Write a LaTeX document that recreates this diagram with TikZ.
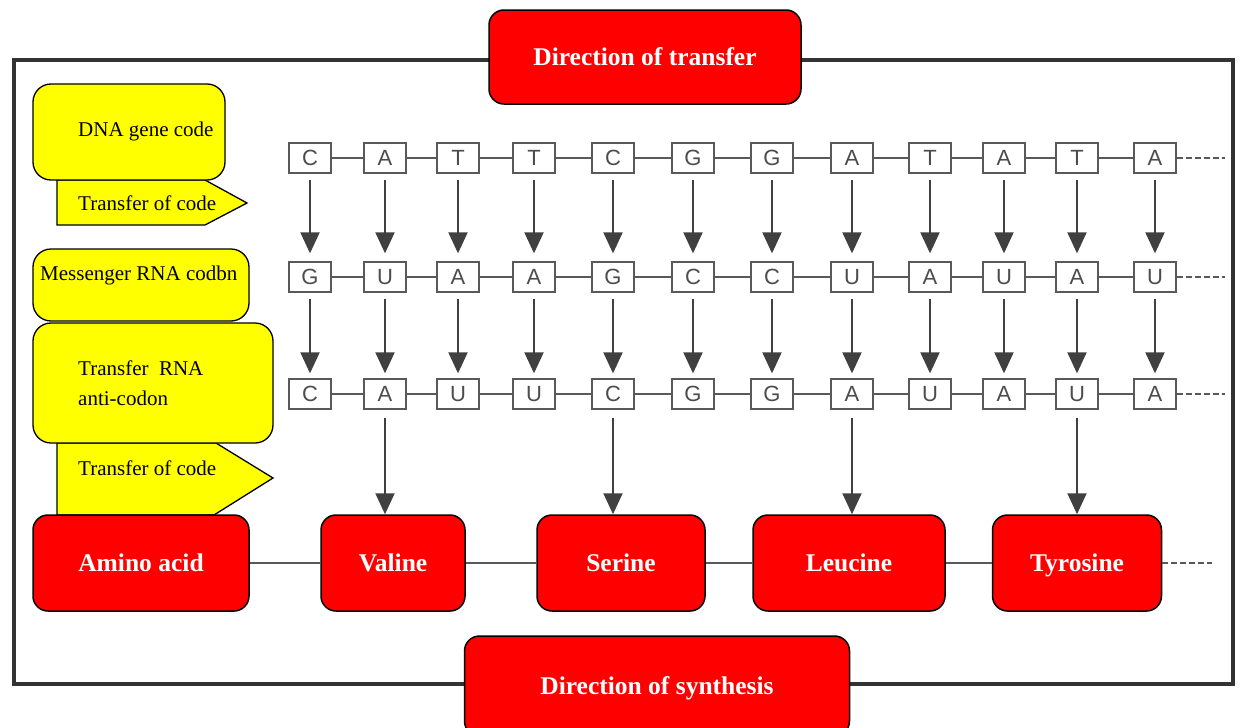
\documentclass[tikz,border=0pt]{standalone}
\usepackage{fontspec}
\setmainfont{Liberation Serif}
\newfontfamily\basefont{Liberation Sans}
\usetikzlibrary{arrows.meta,positioning,calc}
\definecolor{codeyellow}{RGB}{255,255,0}
\definecolor{aminored}{RGB}{255,0,0}

\begin{document}
\begin{tikzpicture}[x=1pt,y=-1pt,
    base/.style={rectangle,draw=black!65,line width=1.3pt,fill=white,minimum width=42pt,minimum height=30pt,inner sep=0pt,text=black!70,font=\basefont\fontsize{22}{22}\selectfont},
    amino/.style={rectangle,draw=black,line width=1.5pt,fill=aminored,rounded corners=15pt,text=white,font=\bfseries\fontsize{25.5}{26}\selectfont,minimum height=96pt,text height=20pt,text depth=3pt},
    codebox/.style={draw=black,line width=1.3pt,fill=codeyellow,rounded corners=18pt},
    codetext/.style={anchor=west,inner sep=0pt,align=left,font=\fontsize{21}{30}\selectfont},
    transfer/.style={draw=black!75,line width=2pt,-{Triangle[width=19pt,length=21pt]}},
    strand/.style={draw=black!65,line width=1.5pt}]
    \useasboundingbox (0,0) rectangle (1243,728);
    % frame of the old figure
    \draw[black!80,line width=4pt] (14,60) rectangle (1233,684);
    % yellow labels on the left
    \draw[codebox,rounded corners=0pt] (57,180) -- (205,180) -- (247,203) -- (205,225) -- (57,225) -- cycle;
    \draw[codebox] (33,84) rectangle (225,180);
    \draw[codebox] (33,249) rectangle (249,321);
    \draw[codebox,rounded corners=0pt] (57,443) -- (216,443) -- (273,478) -- (214,515) -- (57,515) -- cycle;
    \draw[codebox] (33,323) rectangle (273,443);
    \node (dnatext) [codetext] at (78,131) {DNA gene code};
    \node (tc1text) [codetext] at (78,203) {Transfer of code};
    \node (mrnatext) [codetext] at (40,275) {Messenger RNA codbn};
    \node (trnatext) [codetext] at (78,383) {Transfer\ \ RNA\\anti-codon};
    \node (tc2text) [codetext] at (78,468) {Transfer of code};
    % the three strands
    \foreach \x/\d/\m/\t [count=\i] in {310/C/G/C,385/A/U/A,458/T/A/U,534/T/A/U,613/C/G/C,693/G/C/G,772/G/C/G,852/A/U/A,930/T/A/U,1004/A/U/A,1077/T/A/U,1155/A/U/A} {
        \node (d\i) [base] at (\x,158) {\d};
        \node (m\i) [base] at (\x,277) {\m};
        \node (t\i) [base] at (\x,394) {\t};
        \draw[transfer,shorten <=6pt,shorten >=8pt] (d\i) -- (m\i);
        \draw[transfer,shorten <=6pt,shorten >=5pt] (m\i) -- (t\i);
    }
    \foreach \i [remember=\i as \j (initially 1)] in {2,...,12} {
        \draw[strand] (d\j) -- (d\i);
        \draw[strand] (m\j) -- (m\i);
        \draw[strand] (t\j) -- (t\i);
    }
    \coordinate (dend) at (1225,158);
    \coordinate (mend) at (1225,277);
    \coordinate (tend) at (1225,394);
    \draw[strand,dash pattern=on 6pt off 3pt] (d12) -- (dend);
    \draw[strand,dash pattern=on 6pt off 3pt] (m12) -- (mend);
    \draw[strand,dash pattern=on 6pt off 3pt] (t12) -- (tend);
    % amino acid chain
    \node (amino) [amino,minimum width=216pt] at (141,563) {Amino acid};
    \node (valine) [amino,minimum width=144pt] at (393,563) {Valine};
    \node (serine) [amino,minimum width=168pt] at (621,563) {Serine};
    \node (leucine) [amino,minimum width=192pt] at (849,563) {Leucine};
    \node (tyrosine) [amino,minimum width=169pt] at (1077,563) {Tyrosine};
    \draw[strand] (amino) -- (valine);
    \draw[strand] (valine) -- (serine);
    \draw[strand] (serine) -- (leucine);
    \draw[strand] (leucine) -- (tyrosine);
    \coordinate (aend) at (1212,563);
    \draw[strand,dash pattern=on 6pt off 3pt] (tyrosine) -- (aend);
    \draw[transfer,shorten <=8pt] (t2) -- (t2 |- valine.north);
    \draw[transfer,shorten <=8pt] (t5) -- (t5 |- serine.north);
    \draw[transfer,shorten <=8pt] (t8) -- (t8 |- leucine.north);
    \draw[transfer,shorten <=8pt] (t11) -- (t11 |- tyrosine.north);
    % directions
    \node (transfer) [amino,minimum width=312pt,minimum height=94pt] at (645,57) {Direction of transfer};
    \node (synthesis) [amino,minimum width=385pt,minimum height=100pt] at (657,686) {Direction of synthesis};
\end{tikzpicture}
\end{document}
